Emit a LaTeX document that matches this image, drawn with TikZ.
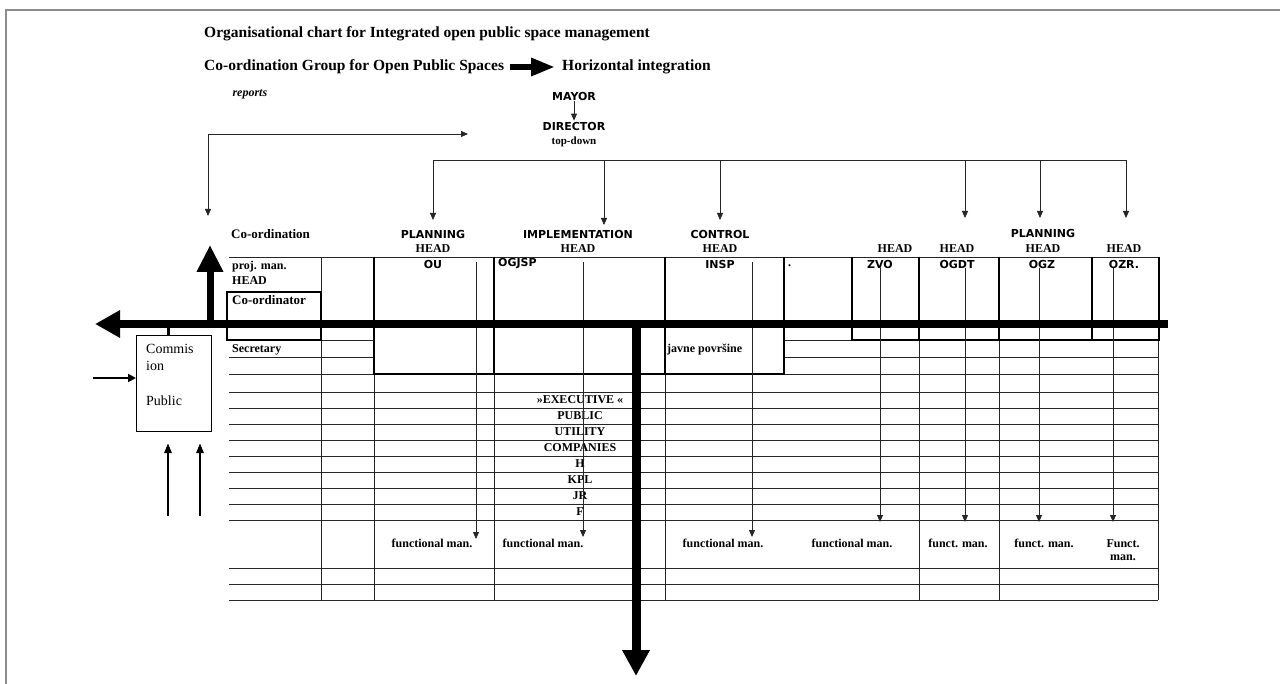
\documentclass[tikz,border=0pt]{standalone}
\usepackage{fontspec}
\setmainfont{Liberation Serif}
\newfontfamily\capsfont{DejaVu Sans}
\usetikzlibrary{arrows.meta, positioning}

\tikzset{
  gridline/.style={line width=0.8pt, black!85},
  boxedge/.style={line width=2.4pt},
  downtip/.style={-{Triangle[length=7pt,width=6pt]}},
  caps/.style={font=\capsfont\bfseries\fontsize{11}{12}\selectfont, inner sep=1pt},
  hd/.style={font=\bfseries\fontsize{12}{13}\selectfont, inner sep=1pt},
  lbl/.style={font=\bfseries\fontsize{12}{13}\selectfont, anchor=west, inner sep=1pt},
  title/.style={font=\bfseries\fontsize{15.5}{18}\selectfont, anchor=west, inner sep=2pt},
  fat/.style={line width=8pt, -{Triangle[length=25pt,width=26pt]}},
}

\begin{document}
\begin{tikzpicture}[x=1pt, y=-1pt]
\useasboundingbox (0,0) rectangle (1280,684);
\draw[black!45, line width=1.5pt] (6,684) -- (6,10) -- (1280,10);

\node[title] (title) at (202,34) {Organisational chart for Integrated open public space management};
\node[title] (group) at (202,67) {Co-ordination Group for Open Public Spaces};
\node[title] (horiz) at (560,67) {Horizontal integration};
\draw[line width=6pt, -{Triangle[length=24pt,width=17pt]}, shorten <=4pt, shorten >=5pt] (group) -- (horiz);

\node[font=\bfseries\itshape\fontsize{12}{13}\selectfont, anchor=west] (reports) at (229,94) {reports};
\node[caps] (mayor) at (574,96) {MAYOR};
\node[caps] (director) at (574,126) {DIRECTOR};
\node[hd, font=\bfseries\fontsize{11}{12}\selectfont] (topdown) at (574,142) {top-down};
\draw[gridline, downtip] (mayor) -- (director);

\coordinate (repin) at (468,134);
\coordinate (repout) at (208,216);
\draw[gridline, {Triangle[length=7pt,width=6pt]}-{Triangle[length=7pt,width=6pt]}] (repout) |- (repin);

\coordinate (busL) at (433,160);
\coordinate (busR) at (1126,160);
\draw[gridline] (busL) -- (busR);
\foreach \x/\y [count=\i] in {433/220,604/225,720/220,965/218,1040/218,1126/218}{
  \coordinate (down\i) at (\x,\y);
  \draw[gridline, downtip] (down\i |- busL) -- (down\i);
}

\node[lbl, font=\bfseries\fontsize{13}{14}\selectfont] (coord) at (230,234) {Co-ordination};
\node[caps] (planA) at (433,234) {PLANNING};
\node[caps] (impl) at (578,234) {IMPLEMENTATION};
\node[caps] (ctrl) at (720,234) {CONTROL};
\node[caps] (planB) at (1043,233) {PLANNING};
\foreach \x [count=\i] in {433,578,720,895,957,1043,1124}
  \node[hd] (head\i) at (\x,249) {HEAD};

\foreach \y in {257,374,392,408,424,440,456,472,488,504,520,568,584,600}
  \draw[gridline] (229,\y) -- (1158,\y);
\foreach \y in {340,357}{
  \draw[gridline] (229,\y) -- (374,\y);
  \draw[gridline] (784,\y) -- (1158,\y);
}
\foreach \x in {321,374,494,665,919,999,1158}
  \draw[gridline] (\x,257) -- (\x,600);

\draw[boxedge] (374,257) -- (374,374) -- (784,374) -- (784,257);
\foreach \x in {494,665} \draw[boxedge] (\x,257) -- (\x,374);
\draw[boxedge] (852,257) -- (852,340) -- (1159,340) -- (1159,257);
\foreach \x in {919,999,1092} \draw[boxedge] (\x,257) -- (\x,340);
\draw[boxedge] (227,292) rectangle (321,340);

\foreach \x/\t [count=\i] in {433/OU,720/INSP,880/ZVO,957/OGDT,1042/OGZ,1124/OZR.}
  \node[caps] (unit\i) at (\x,264) {\t};
\node[caps, anchor=west] (ogjsp) at (497,264) {OGJSP};

\node[lbl] (projman) at (231,267) {proj. man.};
\node[lbl] (projhead) at (231,281) {HEAD};
\node[lbl, font=\bfseries\fontsize{13}{14}\selectfont] (coordinator) at (231,300) {Co-ordinator};
\node[lbl] (secretary) at (231,350) {Secretary};
\node[lbl] (javne) at (666,350) {javne površine};
\node[lbl] (dot) at (787,266) {.};

\foreach \t [count=\i] in {»EXECUTIVE «,PUBLIC,UTILITY,COMPANIES,H,KPL,JR,F}
  \node[hd] (exec\i) at (580,384+16*\i) {\t};

\foreach \x/\a/\b [count=\i] in {476/262/539,583/262/537,752/262/537,880/268/522,965/268/522,1039/268/522,1113/268/522}{
  \coordinate (fm\i) at (\x,\b);
  \draw[gridline, downtip] (fm\i |- 0,\a) -- (fm\i);
}
\foreach \x/\t [count=\i] in {432/functional man.,543/functional man.,723/functional man.,852/functional man.,958/funct. man.,1044/funct. man.}
  \node[hd] (func\i) at (\x,543) {\t};
\node[hd, align=center] (func7) at (1123,550) {Funct.\\man.};

\coordinate (eastend) at (1168,324);
\coordinate (westend) at (95,324);
\draw[fat] (eastend) -- (westend);
\coordinate (upfoot) at (210,324);
\coordinate (upend) at (210,245);
\draw[line width=7pt, -{Triangle[length=27pt,width=25pt]}] (upfoot) -- (upend);
\coordinate (downfoot) at (636,324);
\coordinate (downend) at (636,676);
\draw[line width=9pt, -{Triangle[length=26pt,width=26pt]}] (downfoot) -- (downend);

\node[draw, line width=1pt, minimum width=75pt, minimum height=96pt, anchor=north west] (comm) at (136,335) {};
\node[anchor=west, inner sep=0pt, font=\fontsize{14}{15}\selectfont] (comm1) at (146,349) {Commis};
\node[anchor=west, inner sep=0pt, font=\fontsize{14}{15}\selectfont] (comm2) at (146,366) {ion};
\node[anchor=west, inner sep=0pt, font=\fontsize{14}{15}\selectfont] (comm3) at (146,401) {Public};
\coordinate (commtop) at (168,335);
\draw[line width=3pt] (commtop) -- (commtop |- eastend);
\coordinate (pubin) at (93,378);
\draw[line width=2.5pt, -{Triangle[length=8pt,width=8pt]}] (pubin) -- (pubin -| comm.west);
\foreach \x in {168,200}{
  \coordinate (rise\x) at (\x,443);
  \draw[line width=2.5pt, -{Triangle[length=10pt,width=7pt]}] (rise\x |- 0,516) -- (rise\x);
}
\end{tikzpicture}
\end{document}
